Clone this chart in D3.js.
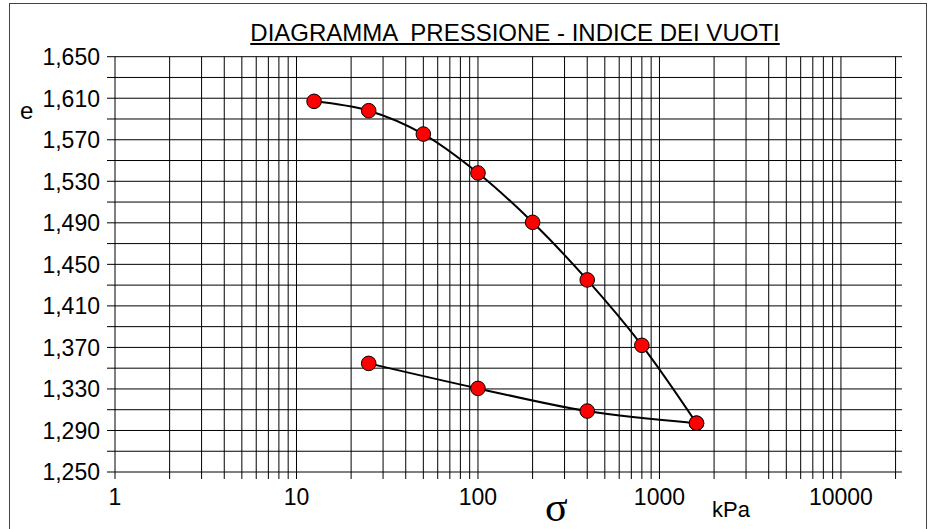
<!DOCTYPE html>
<html>
<head>
<meta charset="utf-8">
<script src="https://cdn.jsdelivr.net/npm/d3@7"></script>
<style>
  body { margin: 0; background: #fff; }
  text { font-family: Arial, "Liberation Sans", sans-serif; fill: #000; }
</style>
</head>
<body>
<svg id="chart" width="936" height="529"></svg>
<script>
// pressure steps (kPa) and void ratio, loading then unloading
const loadSigma = [12.5, 25, 50, 100, 200, 400, 800, 1600]
const loadE = [1.607, 1.598, 1.5755, 1.538, 1.4905, 1.435, 1.372, 1.297]
const unloadSigma = [1600, 400, 100, 25]
const unloadE = [1.297, 1.3087, 1.3305, 1.3546]

const yTicks = [1.25, 1.29, 1.33, 1.37, 1.41, 1.45, 1.49, 1.53, 1.57, 1.61, 1.65]
const yMinor = [1.27, 1.31, 1.35, 1.39, 1.43, 1.47, 1.51, 1.55, 1.59, 1.63]
const xLabels = [1, 10, 100, 1000, 10000]
const xGrid = [1, 2, 3, 4, 5, 6, 7, 8, 9,
	10, 20, 30, 40, 50, 60, 70, 80, 90,
	100, 200, 300, 400, 500, 600, 700, 800, 900,
	1000, 2000, 3000, 4000, 5000, 6000, 7000, 8000, 9000,
	10000, 20000]
const xMax = 21700

const svg = d3.select('#chart')

var plotLeft = 115,
	plotRight = 902,
	plotTop = 56.7,
	plotBottom = 472

var x = d3.scaleLog().domain([1, xMax]).range([plotLeft, plotRight])
var y = d3.scaleLinear().domain([1.25, 1.65]).range([plotBottom, plotTop])
var fmt = (v) => d3.format('.3f')(v).replace('.', ',')

// outer frame
svg.append('rect')
	.attr('x', 9.5).attr('y', 3.5)
	.attr('width', 917).attr('height', 540)
	.attr('fill', 'none').attr('stroke', '#444').attr('stroke-width', 1)

// horizontal grid
svg.append('g')
	.selectAll('line')
	.data(yTicks.concat(yMinor))
	.join('line')
	.attr('x1', plotLeft - 8).attr('x2', plotRight)
	.attr('y1', (d) => y(d)).attr('y2', (d) => y(d))
	.attr('stroke', '#000').attr('stroke-width', 1)

// vertical grid
svg.append('g')
	.selectAll('line')
	.data(xGrid)
	.join('line')
	.attr('x1', (d) => x(d)).attr('x2', (d) => x(d))
	.attr('y1', plotTop).attr('y2', plotBottom + 7)
	.attr('stroke', '#000').attr('stroke-width', 1)

// y labels
svg.append('g')
	.selectAll('text')
	.data(yTicks)
	.join('text')
	.attr('x', 100)
	.attr('y', (d) => y(d))
	.attr('dy', '0.36em')
	.attr('text-anchor', 'end')
	.style('font-size', '23px')
	.text(fmt)

// x labels
svg.append('g')
	.selectAll('text')
	.data(xLabels)
	.join('text')
	.attr('x', (d) => x(d))
	.attr('y', 505)
	.attr('text-anchor', 'middle')
	.style('font-size', '23px')
	.text((d) => d)

// curves
var line = d3.line()
	.x((d) => x(d[0]))
	.y((d) => y(d[1]))
	.curve(d3.curveCatmullRom.alpha(0.5))

var loadPts = loadSigma.map((s, i) => [s, loadE[i]])
var unloadPts = unloadSigma.map((s, i) => [s, unloadE[i]])

svg.append('g')
	.selectAll('path')
	.data([loadPts, unloadPts])
	.join('path')
	.attr('d', line)
	.attr('fill', 'none')
	.attr('stroke', '#000')
	.attr('stroke-width', 2)

svg.append('g')
	.selectAll('circle')
	.data(loadPts.concat(unloadPts))
	.join('circle')
	.attr('cx', (d) => x(d[0]))
	.attr('cy', (d) => y(d[1]))
	.attr('r', 7.3)
	.attr('fill', '#ff0000')
	.attr('stroke', '#000')
	.attr('stroke-width', 1)

// title with underline
var title = svg.append('text')
	.attr('x', 515)
	.attr('y', 41)
	.attr('text-anchor', 'middle')
	.style('font-size', '24px')
	.style('white-space', 'pre')
	.text('DIAGRAMMA  PRESSIONE - INDICE DEI VUOTI')
var tw = title.node().getComputedTextLength()
svg.append('line')
	.attr('x1', 515 - tw / 2).attr('x2', 515 + tw / 2)
	.attr('y1', 44).attr('y2', 44)
	.attr('stroke', '#000').attr('stroke-width', 2)

// axis names
svg.append('text')
	.attr('x', 20).attr('y', 118.5)
	.style('font-size', '24px')
	.text('e')

svg.append('text')
	.attr('x', 545).attr('y', 521)
	.style('font-family', '"Liberation Serif", "Times New Roman", serif')
	.style('font-size', '42px')
	.text('σ')

svg.append('text')
	.attr('x', 712).attr('y', 517)
	.style('font-size', '22px')
	.text('kPa')
</script>
</body>
</html>
